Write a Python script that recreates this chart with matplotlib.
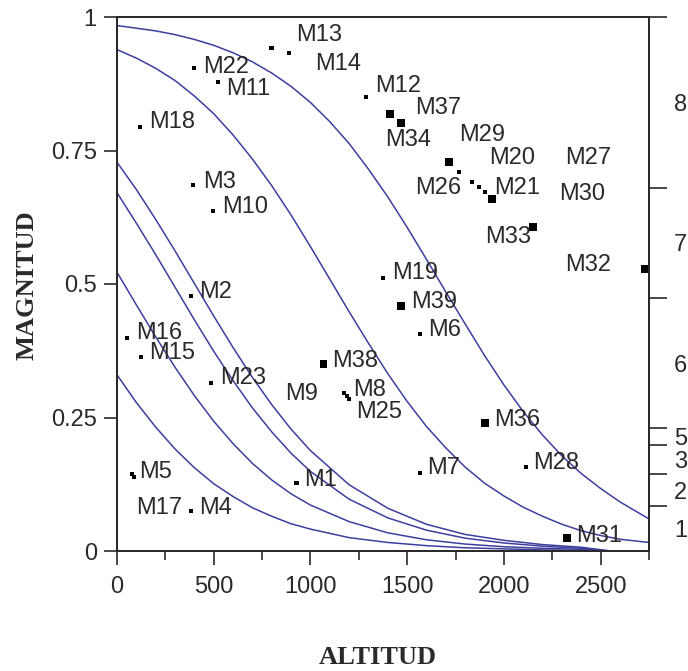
import matplotlib.pyplot as plt
from matplotlib.ticker import FixedLocator, NullFormatter

# --- curvas (altitud, magnitud) ---
alt_a = [0, 100, 200, 300, 400, 500, 600, 700, 800, 900, 1000, 1100, 1200, 1300,
         1400, 1500, 1600, 1700, 1800, 1900, 2000, 2100, 2200, 2300, 2400, 2500, 2600, 2750]
mag_c1 = [0.984, 0.979, 0.974, 0.967, 0.958, 0.947, 0.933, 0.916, 0.895, 0.870, 0.840, 0.804,
          0.763, 0.715, 0.663, 0.606, 0.546, 0.485, 0.425, 0.366, 0.311, 0.261, 0.217, 0.178,
          0.145, 0.117, 0.092, 0.060]
mag_c2 = [0.939, 0.923, 0.904, 0.881, 0.852, 0.819, 0.779, 0.734, 0.684, 0.629, 0.570, 0.509,
          0.448, 0.389, 0.332, 0.280, 0.233, 0.193, 0.157, 0.127, 0.103, 0.082, 0.065, 0.050,
          0.038, 0.029, 0.022, 0.016]

alt_b = [0, 100, 200, 300, 400, 500, 600, 700, 800, 900, 1000, 1200, 1400, 1600, 1800,
         2000, 2200, 2400, 2550]
mag_c3 = [0.728, 0.677, 0.621, 0.562, 0.501, 0.440, 0.381, 0.325, 0.274, 0.228, 0.188, 0.124,
          0.080, 0.050, 0.031, 0.020, 0.012, 0.007, 0.0]
mag_c4 = [0.671, 0.614, 0.555, 0.494, 0.433, 0.374, 0.319, 0.268, 0.223, 0.183, 0.149, 0.097,
          0.062, 0.039, 0.024, 0.015, 0.009, 0.005, 0.0]
mag_c5 = [0.522, 0.461, 0.401, 0.344, 0.291, 0.243, 0.201, 0.164, 0.133, 0.107, 0.086, 0.055,
          0.034, 0.021, 0.013, 0.008, 0.005, 0.003, 0.0]
mag_c6 = [0.330, 0.278, 0.232, 0.191, 0.156, 0.126, 0.102, 0.081, 0.065, 0.051, 0.041, 0.025,
          0.016, 0.010, 0.006, 0.004, 0.002, 0.001, 0.0]

# --- puntos ---
nombres = ['M22', 'M11', 'M13', 'M14', 'M18', 'M3', 'M10', 'M12', 'M37', 'M34',
           'M26', 'M29', 'M20', 'M27', 'M30', 'M21', 'M33', 'M32', 'M19', 'M39',
           'M6', 'M36', 'M2', 'M16', 'M15', 'M23', 'M38', 'M9', 'M8', 'M25',
           'M5', 'M17', 'M4', 'M1', 'M7', 'M28', 'M31']
alt = [397, 521, 799, 887, 119, 392, 495, 1289, 1412, 1469,
       1716, 1768, 1835, 1871, 1902, 1938, 2149, 2727, 1376, 1469,
       1567, 1902, 381, 52, 124, 485, 1067, 1175, 1188, 1200,
       77, 86, 381, 928, 1567, 2113, 2325]
mag = [0.905, 0.878, 0.942, 0.933, 0.794, 0.685, 0.637, 0.850, 0.818, 0.802,
       0.728, 0.710, 0.691, 0.682, 0.672, 0.659, 0.607, 0.528, 0.511, 0.459,
       0.406, 0.240, 0.478, 0.399, 0.363, 0.315, 0.350, 0.296, 0.290, 0.285,
       0.144, 0.138, 0.075, 0.127, 0.146, 0.157, 0.024]

# escala derecha
clases = ['1', '2', '3', '5', '6', '7', '8']
limites = [0, 0.084, 0.144, 0.199, 0.230, 0.474, 0.680, 1.0]

# posicion de las etiquetas (altitud, magnitud)
pos_txt = {
    'M13': (928, 0.966), 'M14': (1026, 0.912), 'M22': (443, 0.906), 'M11': (562, 0.865),
    'M18': (165, 0.803), 'M12': (1335, 0.871), 'M37': (1541, 0.830), 'M34': (1387, 0.770),
    'M29': (1768, 0.779), 'M20': (1923, 0.736), 'M27': (2314, 0.736), 'M26': (1541, 0.680),
    'M21': (1948, 0.680), 'M30': (2284, 0.669), 'M33': (1902, 0.588), 'M3': (443, 0.691),
    'M10': (541, 0.644), 'M19': (1423, 0.521), 'M32': (2314, 0.536), 'M39': (1521, 0.466),
    'M6': (1608, 0.414), 'M36': (1948, 0.245), 'M2': (423, 0.485), 'M16': (98, 0.408),
    'M15': (165, 0.371), 'M23': (531, 0.324), 'M9': (871, 0.294), 'M38': (1113, 0.356),
    'M8': (1222, 0.301), 'M25': (1237, 0.260), 'M5': (113, 0.148), 'M17': (98, 0.081),
    'M4': (423, 0.081), 'M1': (969, 0.133), 'M7': (1603, 0.155), 'M28': (2149, 0.165),
    'M31': (2371, 0.028),
}
grandes = {'M37', 'M34', 'M26', 'M21', 'M33', 'M32', 'M39', 'M36', 'M38', 'M31'}

azul = '#3d3f9e'
gris = '#2a2a2a'
fuente = 'Liberation Sans'

fig = plt.figure(figsize=(6.88, 6.71), dpi=100)
ax = fig.add_axes([117/688, 1 - 551/671, 532/688, 534/671])

for xs, ys in [(alt_a, mag_c1), (alt_a, mag_c2), (alt_b, mag_c3),
               (alt_b, mag_c4), (alt_b, mag_c5), (alt_b, mag_c6)]:
    ax.plot(xs, ys, color=azul, lw=1.1)

tam = [30 if n in grandes else 9 for n in nombres]
ax.scatter(alt, mag, s=tam, marker='s', color='black', linewidths=0, zorder=3, clip_on=False)

for n in nombres:
    tx, ty = pos_txt[n]
    ax.text(tx, ty, n, fontsize=17, family=fuente, color=gris, va='center', ha='left')

ax.set_xlim(0, 2750)
ax.set_ylim(0, 1)
ax.set_xticks([0, 500, 1000, 1500, 2000, 2500])
ax.set_xticks(range(250, 2751, 500), minor=True)
ax.set_yticks([0, 0.25, 0.5, 0.75, 1])
ax.set_yticklabels(['0', '0.25', '0.5', '0.75', '1'])
ax.tick_params(axis='x', which='major', direction='out', length=10, width=1.2, color=gris,
               labelsize=17, pad=8, labelcolor=gris)
ax.tick_params(axis='x', which='minor', direction='out', length=6.5, width=1.2, color=gris)
ax.tick_params(axis='y', which='major', direction='out', length=9.5, width=1.2, color=gris,
               labelsize=17, pad=5, labelcolor=gris)
for lab in ax.get_xticklabels() + ax.get_yticklabels():
    lab.set_family(fuente)
for sp in ax.spines.values():
    sp.set_color(gris)
    sp.set_linewidth(1.4)

# eje derecho con clases
ax2 = ax.twinx()
ax2.set_ylim(0, 1)
ax2.yaxis.set_major_locator(FixedLocator(limites[1:]))
ax2.yaxis.set_major_formatter(NullFormatter())
centros = [(limites[i] + limites[i + 1]) / 2 for i in range(len(clases))]
ax2.yaxis.set_minor_locator(FixedLocator(centros))
ax2.set_yticklabels(clases, minor=True)
ax2.tick_params(axis='y', which='major', direction='out', length=13, width=1.2, color=gris)
ax2.tick_params(axis='y', which='minor', length=0, pad=18, labelsize=17, labelcolor=gris)
for lab in ax2.get_yticklabels(minor=True):
    lab.set_family(fuente)
for sp in ax2.spines.values():
    sp.set_color(gris)
    sp.set_linewidth(1.4)

fig.text(378/688, 1 - 657/671, 'ALTITUD', fontsize=19, family='Liberation Serif',
         weight='bold', color=gris, ha='center', va='center')
fig.text(27/688, 1 - 285/671, 'MAGNITUD', fontsize=19, family='Liberation Serif',
         weight='bold', color=gris, ha='center', va='center', rotation=90)

fig.savefig('out.png', dpi=100)
